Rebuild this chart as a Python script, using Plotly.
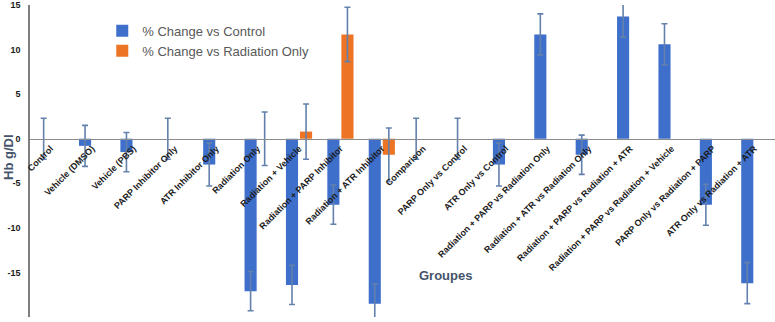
import plotly.graph_objects as go

categories = [
    "Control", "Vehicle (DMSO)", "Vehicle (PBS)", "PARP Inhibitor Only",
    "ATR Inhibitor Only", "Radiation Only", "Radiation + Vehicle",
    "Radiation + PARP Inhibitor", "Radiation + ATR Inhibitor", "Comparison",
    "PARP Only vs Control", "ATR Only vs Control",
    "Radiation + PARP vs Radiation Only", "Radiation + ATR vs Radiation Only",
    "Radiation + PARP vs Radiation + ATR", "Radiation + PARP vs Radiation + Vehicle",
    "PARP Only vs Radiation + PARP", "ATR Only vs Radiation + ATR",
]
change_vs_control = [0, -0.8, -1.5, 0, -2.9, -17.1, -16.4, -7.4, -18.5, 0,
                     0, -2.9, 11.7, -1.8, 13.7, 10.6, -7.4, -16.2]
err_vs_control = [2.3, 2.3, 2.2, 2.3, 2.4, 2.2, 2.2, 2.2, 2.2, 2.3,
                  2.3, 2.4, 2.3, 2.2, 2.3, 2.3, 2.3, 2.3]
change_vs_radiation = [None, None, None, None, None, 0, 0.8, 11.7, -1.8, None,
                       None, None, None, None, None, None, None, None]
err_vs_radiation = [0, 0, 0, 0, 0, 3.0, 3.1, 3.05, 3.0, 0,
                    0, 0, 0, 0, 0, 0, 0, 0]
y_ticks = [15, 10, 5, 0, -5, -10, -15, -20]

ERR_COLOR = "#6381AC"

fig = go.Figure()
fig.add_trace(go.Bar(
    x=categories, y=change_vs_control, name="% Change vs Control",
    marker=dict(color="#3E6FCB", line=dict(width=0)),
    error_y=dict(type="data", array=err_vs_control, visible=True,
                 color=ERR_COLOR, thickness=1.6, width=3),
))
fig.add_trace(go.Bar(
    x=categories, y=change_vs_radiation, name="% Change vs Radiation Only",
    marker=dict(color="#EC7424", line=dict(width=0)),
    error_y=dict(type="data", array=err_vs_radiation, visible=True,
                 color=ERR_COLOR, thickness=1.6, width=3),
))

fig.update_layout(
    width=775, height=322,
    margin=dict(l=30, r=0, t=5, b=5),
    paper_bgcolor="white", plot_bgcolor="white",
    barmode="group", bargap=0.32, bargroupgap=0.14,
    showlegend=True,
    legend=dict(x=0.097, y=0.965, xanchor="left", yanchor="top",
                font=dict(family="Liberation Sans", size=13, color="#595959"),
                bgcolor="rgba(0,0,0,0)", itemwidth=30, tracegroupgap=4),
    font=dict(family="Liberation Sans"),
)
fig.update_xaxes(
    type="category", range=[-0.5, len(categories) - 0.5],
    anchor="free", position=20 / 35,
    showline=True, linecolor="#8C8C8C", linewidth=1.3,
    showgrid=False, ticks="", tickangle=-45,
    tickfont=dict(family="Liberation Sans", size=9, color="#1a1a1a", weight="bold"),
    automargin=False, zeroline=False,
)
fig.update_yaxes(
    range=[-20, 15], tickvals=y_ticks, ticktext=[str(v) for v in y_ticks],
    showline=True, linecolor="#7F7F7F", linewidth=1.5,
    showgrid=False, zeroline=False, ticks="",
    ticklabelstandoff=6,
    tickfont=dict(family="Liberation Sans", size=9, color="#1a1a1a", weight="bold"),
    automargin=False,
)
fig.add_annotation(text="Groupes", xref="paper", yref="paper",
                   x=(445 - 30) / 745, y=(317 - 285) / 312,
                   showarrow=False,
                   font=dict(family="Liberation Sans", size=13, color="#44546A", weight="bold"))
fig.add_annotation(text="Hb g/Dl", xref="paper", yref="paper",
                   x=(8 - 30) / 745, y=(317 - 157) / 312, textangle=-90,
                   xanchor="center", yanchor="middle",
                   showarrow=False,
                   font=dict(family="Liberation Sans", size=13, color="#44546A", weight="bold"))

fig.write_html("out.html")
